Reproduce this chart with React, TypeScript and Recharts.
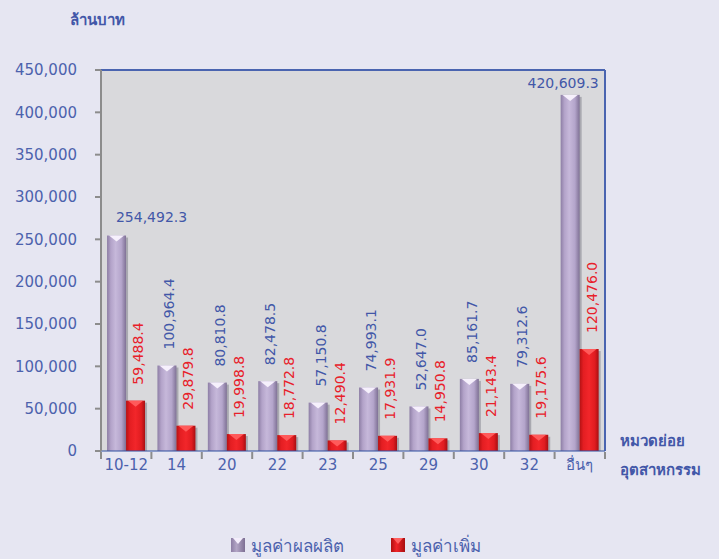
import React from 'react';
import {
  BarChart,
  Bar,
  XAxis,
  YAxis,
  CartesianGrid,
  ReferenceLine,
  LabelList,
  Legend,
  Customized,
} from 'recharts';

const categories = ['10-12', '14', '20', '22', '23', '25', '29', '30', '32', 'อื่นๆ'];
const outputValues = [254492.3, 100964.4, 80810.8, 82478.5, 57150.8, 74993.1, 52647.0, 85161.7, 79312.6, 420609.3];
const addedValues = [59488.4, 29879.8, 19998.8, 18772.8, 12490.4, 17931.9, 14950.8, 21143.4, 19175.6, 120476.0];
const yTicks = [0, 50000, 100000, 150000, 200000, 250000, 300000, 350000, 400000, 450000];
const seriesNames = ['มูลค่าผลผลิต', 'มูลค่าเพิ่ม'];

const data = categories.map((c, i) => ({ cat: c, output: outputValues[i], added: addedValues[i] }));

const FONT = "Tahoma, 'DejaVu Sans', 'Noto Sans', sans-serif";
const BLUE = '#4257a8';
const TICKBLUE = '#4c62ad';
const RED = '#e8202a';

const fmt = (v: number) =>
  v.toLocaleString('en-US', { minimumFractionDigits: 1, maximumFractionDigits: 1 });

const BevelBar = (grad: string, tri: string) => (props: any) => {
  const { x, y, width, height } = props;
  if (!height || height <= 0) return null;
  return (
    <g>
      <rect x={x + 2} y={y + 2} width={width} height={Math.max(0, height - 2)} fill="rgba(80,80,95,0.35)" />
      <rect x={x} y={y} width={width} height={height} fill={`url(#${grad})`} />
      <polygon
        points={`${x + 2},${y} ${x + width - 2},${y} ${x + width / 2},${y + 6}`}
        fill={tri}
      />
    </g>
  );
};

const outputLabel = (props: any) => {
  const { x, y, width, value, index } = props;
  const cx = x + width / 2;
  if (index === 0 || index === categories.length - 1) {
    const dx = index === 0 ? 35 : -7;
    const dy = index === 0 ? -19 : -12;
    return (
      <text x={cx + dx} y={y + dy} textAnchor="middle" dominantBaseline="central" fill={BLUE} fontSize={14} fontFamily={FONT}>
        {fmt(value)}
      </text>
    );
  }
  const tx = cx + 2.5;
  const ty = y - 16;
  return (
    <text x={tx} y={ty} transform={`rotate(-90, ${tx}, ${ty})`} textAnchor="start" dominantBaseline="central" fill={BLUE} fontSize={14} fontFamily={FONT}>
      {fmt(value)}
    </text>
  );
};

const addedLabel = (props: any) => {
  const { x, y, width, value } = props;
  const tx = x + width / 2 + 2.5;
  const ty = y - 16;
  return (
    <text x={tx} y={ty} transform={`rotate(-90, ${tx}, ${ty})`} textAnchor="start" dominantBaseline="central" fill={RED} fontSize={14} fontFamily={FONT}>
      {fmt(value)}
    </text>
  );
};

const XTick = (props: any) => {
  const { x, y, payload, index } = props;
  const bw = 50.4;
  const axisY = y - 7;
  return (
    <g>
      <line x1={x - bw / 2} y1={axisY} x2={x - bw / 2} y2={axisY + 7} stroke="#8c8c8c" strokeWidth={2} />
      {index === categories.length - 1 && (
        <line x1={x + bw / 2} y1={axisY} x2={x + bw / 2} y2={axisY + 7} stroke="#8c8c8c" strokeWidth={2} />
      )}
      <text x={x} y={y + 6} textAnchor="middle" dominantBaseline="central" fill={TICKBLUE} fontSize={15} fontFamily={FONT}>
        {payload.value}
      </text>
    </g>
  );
};

const LegendContent = () => (
  <div style={{ display: 'flex', alignItems: 'center', fontFamily: FONT, fontSize: 17, color: TICKBLUE, paddingLeft: 231, height: 20 }}>
    <svg width={14} height={14} style={{ marginRight: 6, flex: 'none' }}>
      <rect x={0} y={0} width={14} height={14} fill="url(#legPurple)" />
      <polygon points="2,0 12,0 7,6" fill="#f4eefc" />
    </svg>
    <span style={{ width: 140, whiteSpace: 'nowrap' }}>{seriesNames[0]}</span>
    <svg width={14} height={14} style={{ marginRight: 6, flex: 'none' }}>
      <rect x={0} y={0} width={14} height={14} fill="url(#legRed)" />
      <polygon points="2,0 12,0 7,6" fill="#ff6060" />
    </svg>
    <span style={{ whiteSpace: 'nowrap' }}>{seriesNames[1]}</span>
  </div>
);

const Titles = () => (
  <g fontFamily={FONT} fill={BLUE} fontWeight="bold" fontSize={15}>
    <text x={70} y={20} dominantBaseline="central">ล้านบาท</text>
    <text x={620} y={441} dominantBaseline="central">หมวดย่อย</text>
    <text x={620} y={470} dominantBaseline="central">อุตสาหกรรม</text>
  </g>
);

export default function App() {
  return (
    <div style={{ position: 'absolute', left: 0, top: 0, width: 719, height: 559, background: '#e6e6f2' }}>
      <svg width={0} height={0} style={{ position: 'absolute' }}>
        <defs>
          <linearGradient id="legPurple" x1="0" y1="0" x2="1" y2="0">
            <stop offset="0%" stopColor="#8d7ea5" />
            <stop offset="40%" stopColor="#b3a6c6" />
            <stop offset="100%" stopColor="#7d6f93" />
          </linearGradient>
          <linearGradient id="legRed" x1="0" y1="0" x2="1" y2="0">
            <stop offset="0%" stopColor="#b01010" />
            <stop offset="40%" stopColor="#f02428" />
            <stop offset="100%" stopColor="#a80e10" />
          </linearGradient>
        </defs>
      </svg>
      <BarChart
        width={719}
        height={559}
        data={data}
        margin={{ top: 70, right: 113, bottom: 78, left: 11 }}
        barCategoryGap="12%"
        barGap={0}
      >
        <defs>
          <linearGradient id="gPurple" x1="0" y1="0" x2="1" y2="0">
            <stop offset="0%" stopColor="#8d7ea5" />
            <stop offset="20%" stopColor="#b3a3c9" />
            <stop offset="45%" stopColor="#c6b8da" />
            <stop offset="75%" stopColor="#b4a5cb" />
            <stop offset="100%" stopColor="#7f7195" />
          </linearGradient>
          <linearGradient id="gRed" x1="0" y1="0" x2="1" y2="0">
            <stop offset="0%" stopColor="#b51214" />
            <stop offset="20%" stopColor="#e41e22" />
            <stop offset="50%" stopColor="#f2262a" />
            <stop offset="80%" stopColor="#e01c20" />
            <stop offset="100%" stopColor="#a80f12" />
          </linearGradient>
        </defs>
        <CartesianGrid fill="#d9d9dc" horizontal={false} vertical={false} />
        <ReferenceLine y={450000} stroke="#4a64b0" strokeWidth={2} />
        <XAxis
          dataKey="cat"
          height={30}
          tickLine={false}
          tick={<XTick />}
          axisLine={{ stroke: '#2f4f9f', strokeWidth: 1 }}
          interval={0}
        />
        <YAxis
          width={90}
          domain={[0, 450000]}
          ticks={yTicks}
          tickFormatter={(v: number) => v.toLocaleString('en-US')}
          tick={{ fill: TICKBLUE, fontSize: 15, fontFamily: FONT }}
          tickSize={6}
          tickMargin={18}
          tickLine={{ stroke: '#8c8c8c', strokeWidth: 2 }}
          axisLine={{ stroke: '#8c8c8c', strokeWidth: 2 }}
          allowDataOverflow
        />
        <YAxis
          yAxisId="right"
          orientation="right"
          width={1}
          domain={[0, 450000]}
          tick={false}
          tickLine={false}
          axisLine={{ stroke: '#4a64b0', strokeWidth: 2 }}
        />
        <Bar dataKey="output" name={seriesNames[0]} isAnimationActive={false} shape={BevelBar('gPurple', '#f6f0fc')}>
          <LabelList dataKey="output" content={outputLabel} />
        </Bar>
        <Bar dataKey="added" name={seriesNames[1]} isAnimationActive={false} shape={BevelBar('gRed', '#ff5a5a')}>
          <LabelList dataKey="added" content={addedLabel} />
        </Bar>
        <Legend
          verticalAlign="middle"
          align="center"
          content={<LegendContent />}
          wrapperStyle={{ top: 535, left: 0, width: 719, height: 20 }}
        />
        <Customized component={<Titles />} />
      </BarChart>
    </div>
  );
}
